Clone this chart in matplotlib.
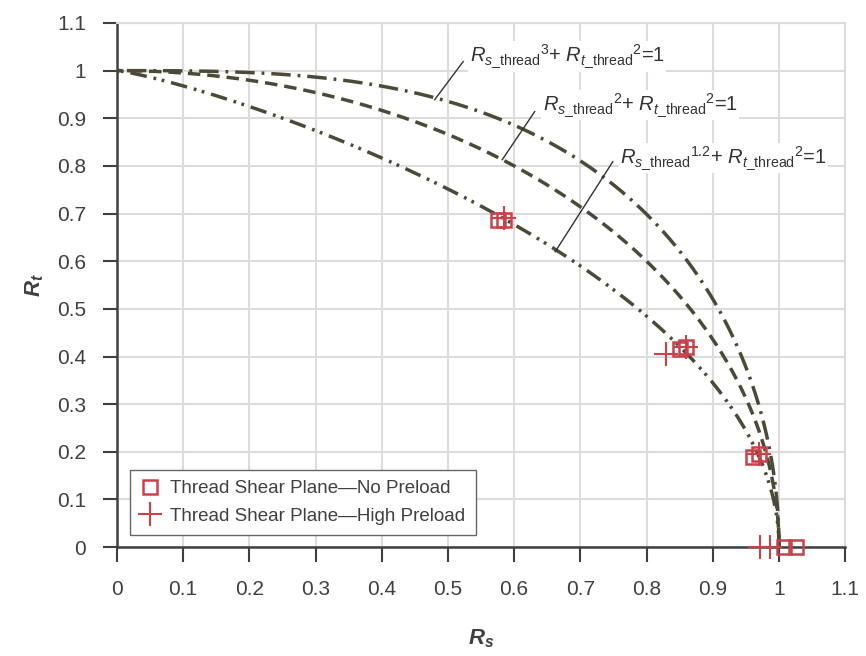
import numpy as np
import matplotlib
matplotlib.use("Agg")
import matplotlib.pyplot as plt
from matplotlib import font_manager

# Data
exponents = [3, 2, 1.2]
curve_styles = [(0, (14, 5, 2, 5)), (0, (9, 5)), (0, (12, 5, 2, 4, 2, 5))]
curve_labels = [
    r"$R_{s\_\mathrm{thread}}{}^{3}$+ $R_{t\_\mathrm{thread}}{}^{2}$=1",
    r"$R_{s\_\mathrm{thread}}{}^{2}$+ $R_{t\_\mathrm{thread}}{}^{2}$=1",
    r"$R_{s\_\mathrm{thread}}{}^{1.2}$+ $R_{t\_\mathrm{thread}}{}^{2}$=1",
]
label_pos = [(0.533, 1.03), (0.643, 0.928), (0.760, 0.817)]
leader_from = [(0.523, 1.019), (0.631, 0.914), (0.749, 0.809)]
leader_to = [(0.480, 0.939), (0.582, 0.813), (0.662, 0.620)]

no_preload_rs = [0.575, 0.585, 0.85, 0.86, 0.96, 0.97, 1.008, 1.025]
no_preload_rt = [0.687, 0.687, 0.415, 0.42, 0.19, 0.195, 0.0, 0.0]
high_preload_rs = [0.585, 0.83, 0.86, 0.97, 0.972, 0.987]
high_preload_rt = [0.69, 0.405, 0.42, 0.195, 0.0, 0.0]

ticks = np.round(np.arange(0, 1.11, 0.1), 1)
tick_labels = ["0", "0.1", "0.2", "0.3", "0.4", "0.5", "0.6", "0.7", "0.8", "0.9", "1", "1.1"]

# Style
plt.rcParams["font.family"] = ["Liberation Sans", "DejaVu Sans"]
plt.rcParams["mathtext.fontset"] = "custom"
plt.rcParams["mathtext.rm"] = "Liberation Sans"
plt.rcParams["mathtext.it"] = "Liberation Sans:italic"
plt.rcParams["mathtext.bf"] = "Liberation Sans:bold"
plt.rcParams["mathtext.bfit"] = "Liberation Sans:italic:bold"
plt.rcParams["lines.scale_dashes"] = False

names = {f.name for f in font_manager.fontManager.ttflist}
narrow = "Liberation Sans Narrow" if "Liberation Sans Narrow" in names else "Liberation Sans"

curve_color = "#4a4a36"
red = "#c8414b"
text_color = "#404040"

fig = plt.figure(figsize=(8.66, 6.56), dpi=100)
ax = fig.add_axes([0.135, 0.166, 0.841, 0.799])

# Interaction curves
theta = np.linspace(0, np.pi / 2, 800)
rt = np.sin(theta)
for n, ls in zip(exponents, curve_styles):
    rs = np.clip(1 - rt ** 2, 0, None) ** (1.0 / n)
    ax.plot(rs, rt, color=curve_color, lw=2.5, linestyle=ls, zorder=3)

# Test points
ax.plot(no_preload_rs, no_preload_rt, linestyle="none", marker="s", ms=10,
        mfc="none", mec=red, mew=1.8, zorder=5, clip_on=False,
        label="Thread Shear Plane\u2014No Preload")
ax.plot(high_preload_rs, high_preload_rt, linestyle="none", marker="+", ms=17,
        mec=red, mew=1.5, zorder=5, clip_on=False,
        label="Thread Shear Plane\u2014High Preload")

# Labels with leader lines
for lab, pos, p0, p1 in zip(curve_labels, label_pos, leader_from, leader_to):
    ax.plot([p0[0], p1[0]], [p0[1], p1[1]], color="#333333", lw=1.0, zorder=4)
    ax.text(pos[0], pos[1], lab, fontsize=14.5, color="#333333", ha="left", va="center",
            zorder=4, bbox=dict(facecolor="white", edgecolor="none", pad=1))

ax.set_xlim(0, 1.1)
ax.set_ylim(0, 1.1)
ax.set_xticks(ticks)
ax.set_yticks(ticks)
ax.set_xticklabels(tick_labels, fontsize=15, family=narrow, color=text_color)
ax.set_yticklabels(tick_labels, fontsize=15, color=text_color)
ax.tick_params(axis="x", direction="out", length=11, width=1.5, color=text_color, pad=13)
ax.tick_params(axis="y", direction="out", length=10, width=1.5, color=text_color, pad=12)

ax.grid(True, color="#dcdcdc", lw=1.5, zorder=0)
ax.set_axisbelow(True)
for s in ["left", "bottom"]:
    ax.spines[s].set_color(text_color)
    ax.spines[s].set_linewidth(1.8)
for s in ["top", "right"]:
    ax.spines[s].set_color("#dcdcdc")
    ax.spines[s].set_linewidth(1.5)

ax.set_xlabel(r"$\mathbfit{R_s}$", fontsize=16, color=text_color, labelpad=20)
ax.set_ylabel(r"$\mathbfit{R_t}$", fontsize=16, color=text_color, labelpad=8)

leg = ax.legend(loc="lower left", bbox_to_anchor=(0.018, 0.023), borderaxespad=0,
                fontsize=13.5, frameon=True, fancybox=False, framealpha=1,
                edgecolor="#666666", handlelength=1.0, handletextpad=0.6,
                labelspacing=0.55, borderpad=0.55)
leg.get_frame().set_linewidth(1.0)
for t in leg.get_texts():
    t.set_color(text_color)

fig.savefig("out.png", dpi=100)
